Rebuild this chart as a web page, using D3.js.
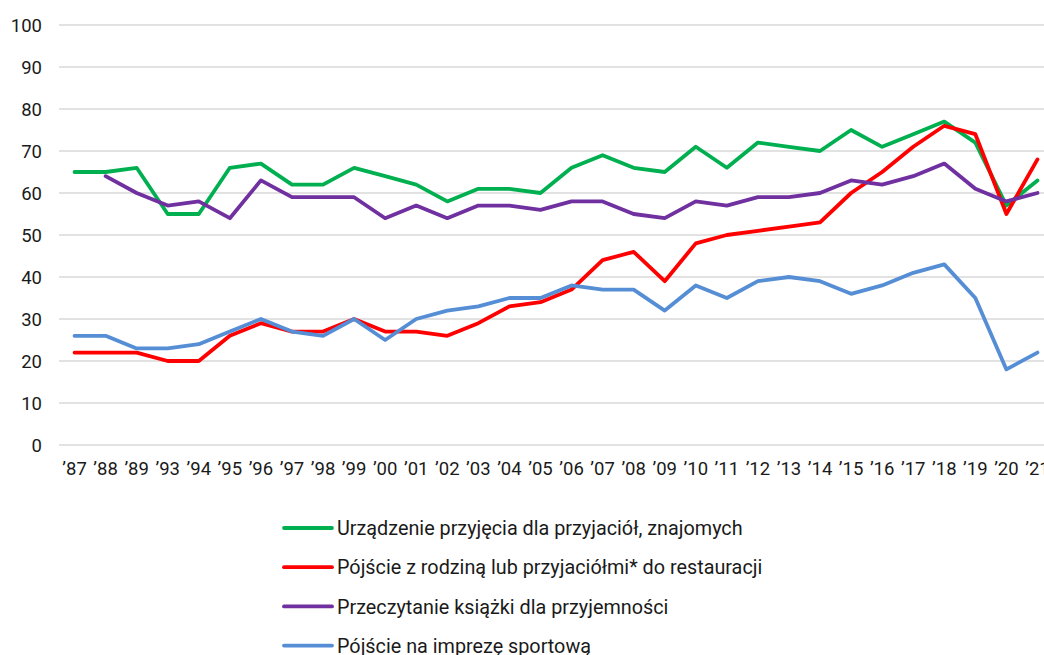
<!DOCTYPE html>
<html><head><meta charset="utf-8">
<script src="https://cdn.jsdelivr.net/npm/d3@7"></script>
<style>html,body{margin:0;padding:0;background:#fff;overflow:hidden}</style>
</head><body>
<svg id="chart" width="1044" height="655"></svg>
<script>
const categories = ["’87","’88","’89","’93","’94","’95","’96","’97","’98","’99","’00","’01","’02","’03","’04","’05","’06","’07","’08","’09","’10","’11","’12","’13","’14","’15","’16","’17","’18","’19","’20","’21"];
const przyjecia = [65,65,66,55,55,66,67,62,62,66,64,62,58,61,61,60,66,69,66,65,71,66,72,71,70,75,71,74,77,72,57,63];
const restauracja = [22,22,22,20,20,26,29,27,27,30,27,27,26,29,33,34,37,44,46,39,48,50,51,52,53,60,65,71,76,74,55,68];
const ksiazka = [null,64,60,57,58,54,63,59,59,59,54,57,54,57,57,56,58,58,55,54,58,57,59,59,60,63,62,64,67,61,58,60];
const sport = [26,26,23,23,24,27,30,27,26,30,25,30,32,33,35,35,38,37,37,32,38,35,39,40,39,36,38,41,43,35,18,22];
const yTicks = [0,10,20,30,40,50,60,70,80,90,100];
const seriesNames = ["Urządzenie przyjęcia dla przyjaciół, znajomych","Pójście z rodziną lub przyjaciółmi* do restauracji","Przeczytanie książki dla przyjemności","Pójście na imprezę sportową"];
const seriesColors = ["#00B050","#FF0000","#7030A0","#558ED5"];
const seriesValues = [przyjecia, restauracja, ksiazka, sport];

const svg = d3.select("#chart");
const font = "Roboto, 'Liberation Sans', sans-serif";
const mLeft = 59, mRight = 1053, mTop = 25, mBottom = 445;
const x = d3.scaleBand().domain(categories).range([mLeft, mRight]);
const y = d3.scaleLinear().domain([0,100]).range([mBottom, mTop]);

// gridlines
svg.append("g").selectAll("line").data(yTicks).join("line")
  .attr("x1", mLeft).attr("x2", 1044)
  .attr("y1", d => y(d)).attr("y2", d => y(d))
  .attr("stroke", "#d9d9d9").attr("stroke-width", 1.5);

// y labels
svg.append("g").selectAll("text").data(yTicks).join("text")
  .attr("x", 42).attr("y", d => y(d)).attr("dy", "0.36em")
  .attr("text-anchor", "end").attr("font-family", font).attr("font-size", 18.5)
  .attr("fill", "#1a1a1a").text(d => d);

// x labels
svg.append("g").selectAll("text").data(categories).join("text")
  .attr("x", d => x(d) + x.bandwidth()/2).attr("y", 475)
  .attr("text-anchor", "middle").attr("font-family", font).attr("font-size", 18.5)
  .attr("fill", "#1a1a1a").text(d => d);

const line = d3.line()
  .defined(d => d.v !== null)
  .x(d => x(d.c) + x.bandwidth()/2)
  .y(d => y(d.v));

seriesValues.forEach((vals, i) => {
  svg.append("path")
    .datum(categories.map((c, j) => ({c, v: vals[j]})))
    .attr("d", line).attr("fill", "none")
    .attr("stroke", seriesColors[i]).attr("stroke-width", 3.8)
    .attr("stroke-linejoin", "round").attr("stroke-linecap", "round");
});

// legend
const lg = svg.append("g");
seriesNames.forEach((n, i) => {
  const ly = 528 + i * 39.2;
  lg.append("line").attr("x1", 284).attr("x2", 332).attr("y1", ly).attr("y2", ly)
    .attr("stroke", seriesColors[i]).attr("stroke-width", 3.8).attr("stroke-linecap", "round");
  lg.append("text").attr("x", 337).attr("y", ly).attr("dy", "0.36em")
    .attr("font-family", font).attr("font-size", 19.8).attr("fill", "#1a1a1a").text(n);
});
</script>
</body></html>
